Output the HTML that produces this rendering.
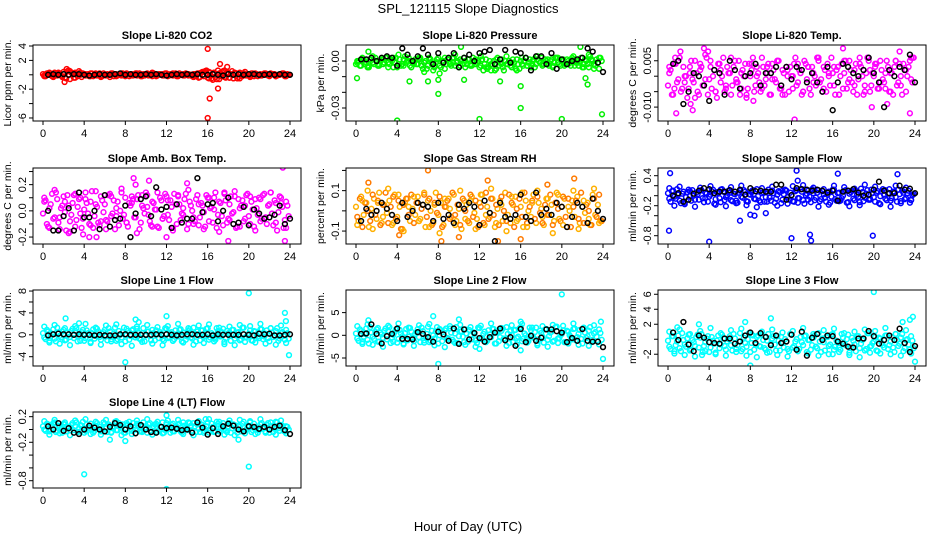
<!DOCTYPE html>
<html><head><meta charset="utf-8"><title>SPL_121115 Slope Diagnostics</title>
<style>
html,body{margin:0;padding:0;background:#fff;}
svg{display:block;font-family:"Liberation Sans",Arial,sans-serif;}
</style></head>
<body>
<svg id="chart" width="936" height="540" viewBox="0 0 936 540" xmlns="http://www.w3.org/2000/svg">
<rect x="0" y="0" width="936" height="540" fill="#fff"/>
<text x="468" y="13" text-anchor="middle" font-size="13">SPL_121115  Slope Diagnostics</text>
<text x="468" y="531" text-anchor="middle" font-size="13">Hour of Day (UTC)</text>
</svg>
<script>
const hoursA=[0,0.25,0.5,0.75,1,1.25,1.5,1.75,2,2.25,2.5,2.75,3,3.25,3.5,3.75,4,4.25,4.5,4.75,5,5.25,5.5,5.75,6,6.25,6.5,6.75,7,7.25,7.5,7.75,8,8.25,8.5,8.75,9,9.25,9.5,9.75,10,10.25,10.5,10.75,11,11.25,11.5,11.75,12,12.25,12.5,12.75,13,13.25,13.5,13.75,14,14.25,14.5,14.75,15,15.25,15.5,15.75,16,16.25,16.5,16.75,17,17.25,17.5,17.75,18,18.25,18.5,18.75,19,19.25,19.5,19.75,20,20.25,20.5,20.75,21,21.25,21.5,21.75,22,22.25,22.5,22.75,23,23.25,23.5,23.75];
const hoursC=[0.125,0.375,0.625,0.875,1.125,1.375,1.625,1.875,2.125,2.375,2.625,2.875,3.125,3.375,3.625,3.875,4.125,4.375,4.625,4.875,5.125,5.375,5.625,5.875,6.125,6.375,6.625,6.875,7.125,7.375,7.625,7.875,8.125,8.375,8.625,8.875,9.125,9.375,9.625,9.875,10.125,10.375,10.625,10.875,11.125,11.375,11.625,11.875,12.125,12.375,12.625,12.875,13.125,13.375,13.625,13.875,14.125,14.375,14.625,14.875,15.125,15.375,15.625,15.875,16.125,16.375,16.625,16.875,17.125,17.375,17.625,17.875,18.125,18.375,18.625,18.875,19.125,19.375,19.625,19.875,20.125,20.375,20.625,20.875,21.125,21.375,21.625,21.875,22.125,22.375,22.625,22.875,23.125,23.375,23.625,23.875];
const hoursB=[0.125,0.625,1.125,1.625,2.125,2.625,3.125,3.625,4.125,4.625,5.125,5.625,6.125,6.625,7.125,7.625,8.125,8.625,9.125,9.625,10.125,10.625,11.125,11.625,12.125,12.625,13.125,13.625,14.125,14.625,15.125,15.625,16.125,16.625,17.125,17.625,18.125,18.625,19.125,19.625,20.125,20.625,21.125,21.625,22.125,22.625,23.125,23.625];
const hoursK=[0.5,1,1.5,2,2.5,3,3.5,4,4.5,5,5.5,6,6.5,7,7.5,8,8.5,9,9.5,10,10.5,11,11.5,12,12.5,13,13.5,14,14.5,15,15.5,16,16.5,17,17.5,18,18.5,19,19.5,20,20.5,21,21.5,22,22.5,23,23.5,24];
const xTicks=[0,4,8,12,16,20,24];
const xTickLabels=["0","4","8","12","16","20","24"];

const p1A=[0.1,-0.2,0.2,0,-0.3,0.1,0.3,-0.1,0.4,-0.5,0.6,0.3,-0.4,0.2,0.5,-0.3,0.1,0,-0.2,0.2,0.1,-0.1,0.2,-0.2,0,0.1,-0.3,0.2,0.1,-0.1,0,0.2,-0.2,0.1,0,-0.1,0.2,0,-0.2,0.1,0.1,-0.1,0,0.2,-0.2,0.1,0,-0.1,0.2,-0.1,0,0.1,-0.2,0.2,0,-0.1,0.1,0,-0.2,0.1,0.2,-0.3,0.4,0.5,-0.4,0.3,0.2,-0.3,0.6,-0.2,0.5,-0.4,0.3,0.1,-0.5,0.2,-0.3,0.1,0.2,-0.1,0,0.2,-0.2,0.1,0,-0.1,0.2,0,-0.2,0.1,0.1,-0.1,0,0.2,-0.2,0.1];
const p1B=[-0.2,0.3,-0.1,0.2,-0.4,0.5,-0.4,0.3,0.1,-0.2,0.2,-0.3,0,0.1,-0.2,0.2,0.1,-0.1,0.2,-0.2,0,0.3,-0.1,0.1,-0.2,0.2,0,-0.1,0.1,-0.3,0.2,0.4,-0.5,0.3,-0.6,0.6,-0.4,0.3,-0.5,0.4,-0.3,0.2,-0.1,0.1,0.2,-0.2,0.1,-0.2];
const p1C=[-0.1,0.2,0,-0.2,0.3,-0.1,0.1,-0.3,0.2,0.5,-0.6,0.1,0.3,-0.2,0,0.2,-0.1,0.1,0.2,-0.2,0,0.1,-0.1,0.2,-0.1,0,0.2,-0.2,0.1,0,-0.1,0.1,0.2,-0.2,0.1,0,-0.1,0.2,0,-0.1,0.2,0,-0.2,0.1,0,0.1,-0.1,0.2,0,0.1,-0.1,0.2,-0.2,0,0.1,0.2,-0.1,0,0.1,-0.2,-0.4,0.3,-0.2,0.6,0.4,-0.5,0.3,-0.6,0.2,0.4,-0.3,0.2,-0.4,0.5,0.2,-0.5,0.3,-0.2,0,0.1,-0.1,0.2,0,-0.2,0.1,0,0.2,-0.1,0,0.1,-0.2,0,0.1,0.2,-0.1,0];
const p1OutH=[2.1,16.0,16.0,16.2,17.0,17.2,17.9,2.3,16.5];
const p1OutV=[-1.0,3.6,-6.0,-3.3,-1.9,1.5,1.1,0.8,-0.7];
const p1K=[0,0.1,0,0.1,0,0.1,0.1,0,-0.1,0,0.1,0,0,0.1,0.2,0,0.1,0,0,0.1,0,0.1,0,-0.1,0,0.1,0,0.1,0,0.1,0,0,0.1,0,-0.1,0.1,0,0.1,0,0.1,0.1,0,0,0.1,0,0.1,0,0];
const p1Ticks=[-6,-4,-2,0,2,4];
const p1TickLabels=["-6","","-2","","2","4"];

const p2A=[-0.002,0.000,-0.003,0.001,-0.001,-0.004,0.002,-0.002,0.000,-0.003,0.001,-0.001,0.002,-0.002,0.000,-0.001,-0.004,0.001,-0.002,0.003,0.000,-0.003,-0.001,0.001,-0.002,0.002,-0.005,0.000,-0.003,0.001,-0.006,-0.001,0.002,-0.004,0.000,-0.002,0.001,-0.003,0.002,-0.001,-0.004,0.000,0.002,-0.002,0.001,-0.003,0.000,-0.001,-0.004,0.001,-0.002,-0.005,0.000,-0.003,-0.006,0.002,-0.001,-0.004,0.000,-0.002,-0.003,0.001,-0.005,-0.002,0.000,-0.003,0.002,-0.001,-0.004,0.001,-0.002,0.000,0.002,-0.002,0.000,-0.003,0.001,-0.001,0.002,-0.002,0.000,-0.003,0.001,-0.001,0.002,-0.003,0.000,-0.001,-0.004,0.001,-0.002,0.003,0.000,-0.003,-0.001,0.002];
const p2B=[-0.001,0.002,-0.003,0.003,-0.002,0.001,-0.004,0.002,0.004,-0.003,0.000,-0.002,0.002,-0.007,0.001,-0.003,-0.008,0.002,-0.001,0.004,-0.003,0.000,-0.002,0.001,0.003,-0.004,-0.006,0.001,-0.002,0.003,-0.001,-0.006,0.002,-0.003,0.000,0.003,-0.002,0.001,-0.003,0.002,0.000,-0.002,0.003,-0.001,-0.004,0.004,-0.005,0.002];
const p2C=[0.000,-0.003,0.001,-0.002,-0.004,0.001,-0.001,0.002,-0.003,0.000,-0.002,0.002,-0.001,0.001,-0.004,0.002,-0.002,-0.003,0.001,-0.001,0.002,-0.004,0.000,-0.002,0.001,-0.003,-0.001,-0.005,0.002,-0.002,-0.004,0.001,-0.003,0.000,-0.005,0.001,-0.002,0.002,-0.003,0.000,0.001,-0.002,-0.004,0.001,-0.003,0.002,-0.002,0.000,-0.003,-0.006,0.001,-0.004,-0.002,0.000,-0.005,-0.003,0.001,-0.006,-0.002,0.000,-0.004,-0.001,0.001,-0.005,-0.002,0.000,-0.003,0.001,-0.002,-0.004,0.001,-0.001,-0.003,0.001,-0.002,0.000,-0.004,0.002,-0.001,-0.003,0.001,-0.002,0.000,-0.003,0.001,-0.001,-0.003,0.002,-0.002,0.000,-0.004,0.001,-0.002,0.001,-0.005,0.000];
const p2OutH=[0.1,4.0,12.0,16.0,20.0,23.9,8.0,5.2,7.0,8.0,10.5,14.0,22.3,22.5,16.0,1.2,10.2,21.8];
const p2OutV=[-0.011,-0.038,-0.037,-0.030,-0.037,-0.034,-0.021,-0.013,-0.013,-0.012,-0.012,-0.013,-0.011,-0.015,-0.016,0.006,0.009,0.009];
const p2K=[0.001,0.001,0.002,0.000,0.002,0.003,0.002,-0.003,0.008,0.004,0.000,0.003,0.008,0.004,-0.002,0.005,-0.001,0.002,0.005,-0.004,0.002,0.004,0.000,0.005,0.006,0.007,-0.002,0.001,0.007,-0.001,0.006,0.005,0.002,-0.006,0.003,0.003,-0.002,0.005,-0.005,0.001,-0.002,0.000,0.001,0.002,0.008,0.006,-0.001,-0.007];
const p2Ticks=[-0.03,-0.02,-0.01,0];
const p2TickLabels=["-0.03","","","0.00"];

const p3A=[-0.003,0.002,-0.006,0.004,-0.001,-0.005,0.003,0.000,-0.004,0.005,-0.002,0.001,-0.006,0.003,-0.003,0.006,-0.001,-0.004,0.002,-0.007,0.004,0.000,-0.005,0.003,0.001,-0.003,0.005,-0.002,-0.006,0.002,0.004,-0.004,0.000,0.006,-0.003,0.001,-0.005,0.003,-0.001,0.004,-0.006,0.002,-0.002,0.005,-0.004,0.001,0.003,-0.005,0.000,0.004,-0.003,0.002,-0.006,0.005,-0.001,-0.004,0.003,0.000,0.006,-0.002,-0.005,0.002,0.004,-0.003,0.001,-0.006,0.003,0.000,-0.004,0.005,-0.002,0.002,-0.005,0.004,-0.001,0.003,-0.006,0.001,0.005,-0.003,0.000,0.004,-0.004,0.002,-0.002,0.005,-0.005,0.001,0.003,-0.003,0.004,-0.006,0.002,0.000,0.005,-0.002];
const p3B=[0.003,-0.004,0.006,-0.002,0.001,-0.007,0.004,-0.001,0.005,-0.005,0.002,-0.003,0.006,-0.002,0.001,-0.006,0.004,0.000,-0.004,0.003,-0.001,0.005,-0.006,0.002,0.000,0.004,-0.005,0.003,-0.002,0.006,-0.004,0.001,0.003,-0.006,0.005,-0.001,-0.003,0.006,-0.005,0.002,0.004,-0.002,0.001,-0.005,0.005,-0.003,0.002,0.006];
const p3C=[0.001,-0.006,0.004,-0.002,0.006,-0.004,0.000,-0.007,0.003,-0.001,0.005,-0.005,0.002,-0.003,0.007,-0.006,0.003,0.000,-0.005,0.004,-0.002,0.006,-0.004,0.001,-0.006,0.003,-0.001,0.005,-0.004,0.000,-0.007,0.004,0.002,-0.005,0.003,-0.002,0.006,-0.003,0.001,-0.006,0.004,-0.001,0.005,-0.004,0.002,-0.006,0.000,0.003,-0.004,0.006,-0.002,0.001,-0.005,0.004,0.003,-0.006,0.001,-0.003,0.005,-0.001,0.003,-0.005,0.000,0.006,-0.003,0.002,-0.006,0.004,0.001,-0.004,0.005,-0.002,0.002,-0.006,0.004,0.000,-0.003,0.006,-0.005,0.001,0.003,-0.004,0.005,-0.001,-0.004,0.003,0.001,-0.006,0.005,-0.002,0.000,0.004,-0.005,0.003,-0.001,0.006];
const p3OutH=[0.8,2.2,2.4,3.5,3.9,12.3,17.0,19.8,21.3,23.5,22.5,0.7,1.2,23.8,8.3];
const p3OutV=[-0.012,-0.009,-0.011,0.009,0.008,-0.014,0.009,-0.010,-0.009,-0.012,0.008,0.006,0.008,0.006,-0.008];
const p3K=[0.004,0.005,-0.009,-0.005,0.001,0.000,-0.003,-0.008,0.002,0.001,-0.006,0.005,0.002,-0.004,0.000,0.001,0.004,-0.003,0.001,0.001,0.003,-0.003,0.003,-0.001,0.003,0.002,-0.002,0.001,-0.002,-0.005,0.003,-0.011,-0.002,0.004,0.003,0.001,0.000,0.002,0.006,0.001,-0.002,-0.010,0.002,0.000,0.003,0.002,0.007,-0.002];
const p3Ticks=[-0.01,-0.005,0,0.005];
const p3TickLabels=["-0.010","","","0.005"];

const p4A=[-0.02,0.08,-0.12,0.05,-0.06,0.14,-0.09,0.02,0.11,-0.15,0.04,-0.03,0.12,-0.07,0.09,-0.13,0.01,0.06,-0.10,0.15,-0.04,0.03,-0.11,0.08,0.05,-0.08,0.13,-0.02,-0.14,0.07,0.00,-0.06,0.10,-0.12,0.04,0.09,-0.05,0.12,-0.09,0.02,0.14,-0.03,-0.11,0.06,0.01,-0.13,0.08,-0.04,0.11,-0.07,0.03,0.13,-0.10,0.05,-0.02,0.09,-0.14,0.07,0.00,-0.08,0.12,-0.05,0.04,-0.12,0.10,0.02,-0.09,0.14,-0.03,0.06,-0.11,0.08,-0.06,0.11,-0.01,-0.13,0.09,0.04,-0.08,0.12,-0.04,0.07,-0.12,0.02,0.10,-0.06,0.13,-0.10,0.05,-0.02,0.08,-0.15,0.11,0.03,-0.07,0.04];
const p4B=[0.10,-0.13,0.16,-0.05,0.07,-0.16,0.13,-0.02,0.09,-0.11,0.15,-0.08,-0.14,0.11,-0.04,0.17,-0.09,0.06,-0.17,0.12,0.03,-0.12,0.14,-0.06,0.08,-0.15,0.12,-0.03,0.16,-0.10,0.05,-0.14,0.10,0.01,-0.16,0.13,-0.07,0.15,-0.12,0.04,0.11,-0.15,0.09,-0.05,0.14,-0.09,0.06,-0.13];
const p4C=[0.07,-0.10,0.02,0.13,-0.05,0.09,-0.14,0.04,-0.01,0.12,-0.08,0.06,-0.12,0.03,0.10,-0.06,0.14,-0.02,0.07,-0.13,0.05,-0.09,0.11,-0.01,-0.07,0.12,-0.04,0.08,0.02,-0.11,0.14,-0.03,-0.09,0.06,0.11,-0.05,0.09,-0.14,0.04,-0.02,0.12,-0.08,0.07,0.01,-0.12,0.10,-0.06,0.13,-0.03,0.08,-0.13,0.05,0.11,-0.07,0.02,0.13,-0.10,0.04,-0.05,0.09,-0.11,0.06,-0.01,0.12,-0.08,0.03,0.10,-0.13,0.07,-0.04,0.14,-0.09,0.05,-0.02,0.11,-0.12,0.02,0.08,-0.06,0.13,-0.10,0.01,0.09,-0.03,-0.08,0.12,-0.05,0.04,0.14,-0.11,0.06,-0.01,0.10,-0.13,0.07,-0.04];
const p4OutH=[8.8,9.0,10.3,14.0,18.0,23.3,23.5,12.0,4.5,5.2,3.9,2.5];
const p4OutV=[0.25,0.2,0.23,0.21,-0.23,0.33,-0.23,-0.2,-0.2,-0.2,-0.18,-0.17];
const p4K=[0.00,-0.15,-0.15,-0.04,0.02,-0.15,0.14,-0.05,-0.05,0.00,-0.14,0.12,-0.12,-0.07,-0.06,0.04,-0.20,-0.02,0.09,0.11,-0.04,0.18,0.01,0.03,-0.13,0.05,-0.09,-0.06,-0.06,0.25,-0.01,0.05,0.06,-0.08,0.00,0.10,-0.10,-0.09,0.03,-0.11,0.01,-0.02,-0.06,-0.05,-0.03,0.04,-0.10,-0.06];
const p4Ticks=[-0.2,-0.1,0,0.1,0.2,0.3];
const p4TickLabels=["-0.2","","0.0","","0.2",""];

const p5A=[0.02,-0.05,0.07,-0.02,0.04,-0.08,0.01,0.06,-0.04,0.09,-0.06,0.03,-0.01,0.05,-0.07,0.08,-0.03,0.02,-0.09,0.04,0.06,-0.05,0.01,-0.02,0.07,-0.04,0.03,-0.08,0.05,0.00,-0.06,0.09,-0.02,0.04,-0.07,0.02,0.06,-0.03,0.08,-0.05,0.01,-0.09,0.05,0.03,-0.06,0.07,-0.01,-0.04,0.04,0.08,-0.07,0.02,-0.03,0.06,-0.08,0.01,0.05,-0.05,0.09,-0.02,-0.06,0.03,0.07,-0.04,0.02,-0.08,0.05,0.00,-0.03,0.08,-0.06,0.04,0.01,-0.07,0.06,-0.02,0.03,-0.05,0.09,-0.04,0.02,0.06,-0.08,0.00,0.05,-0.03,0.07,-0.06,0.02,-0.01,0.04,-0.07,0.08,-0.02,0.03,-0.05];
const p5B=[-0.07,0.05,0.10,-0.09,0.04,-0.03,0.11,-0.06,0.08,-0.10,0.02,0.07,-0.05,0.09,-0.08,0.03,-0.11,0.06,0.01,-0.07,0.10,-0.04,0.05,-0.09,0.08,-0.02,0.11,-0.06,0.03,-0.10,0.07,-0.05,0.09,-0.08,0.04,0.10,-0.03,0.06,-0.11,0.08,-0.07,0.02,0.10,-0.09,0.05,-0.04,0.11,-0.06];
const p5C=[-0.03,0.06,-0.08,0.04,0.00,-0.05,0.08,-0.02,0.05,-0.07,0.03,0.09,-0.06,0.02,0.07,-0.04,0.05,-0.09,0.03,0.06,-0.02,0.08,-0.06,0.04,-0.05,0.01,0.08,-0.03,0.06,-0.07,0.04,-0.01,0.07,-0.08,0.02,0.05,-0.04,0.09,-0.02,0.03,-0.07,0.06,0.00,-0.05,0.08,-0.03,0.05,-0.08,0.02,-0.06,0.09,-0.04,0.06,-0.02,0.03,-0.07,0.07,0.00,-0.05,0.08,0.04,-0.08,0.01,0.06,-0.03,0.09,-0.06,0.02,0.05,-0.04,0.07,-0.01,-0.06,0.03,-0.02,0.08,-0.07,0.04,0.01,-0.05,0.07,-0.03,0.06,-0.08,0.02,0.05,-0.04,0.09,-0.06,0.03,0.00,-0.07,0.06,-0.03,0.08,-0.05];
const p5OutH=[1.2,7.0,8.3,12.8,13.8,21.2,18.6,10.0,4.2,16.0];
const p5OutV=[0.14,0.2,-0.15,0.15,-0.15,0.16,0.13,-0.13,-0.12,-0.14];
const p5K=[-0.05,0.01,-0.02,0.00,0.04,0.01,-0.02,-0.05,0.04,-0.03,0.00,0.04,0.03,0.02,-0.05,0.04,-0.04,-0.02,-0.06,0.03,0.01,0.04,0.02,-0.07,0.05,-0.01,-0.15,0.04,-0.03,-0.04,-0.02,0.08,-0.03,-0.05,0.09,-0.02,0.01,-0.02,0.04,0.02,-0.08,-0.03,0.04,0.02,-0.06,0.06,0.00,-0.04];
const p5Ticks=[-0.1,0,0.1,0.2];
const p5TickLabels=["-0.1","","0.1",""];

const p6A=[0.05,-0.12,0.10,-0.06,0.02,-0.15,0.08,-0.03,0.12,-0.10,0.00,0.06,-0.08,0.11,-0.13,0.04,-0.02,0.09,-0.16,0.07,-0.05,0.13,-0.09,0.01,0.06,-0.11,0.03,-0.14,0.10,-0.04,0.08,-0.12,0.02,0.11,-0.07,-0.01,-0.13,0.07,-0.03,0.12,-0.10,0.05,-0.06,0.09,-0.15,0.03,0.10,-0.08,0.01,-0.12,0.11,-0.05,0.08,-0.16,0.04,-0.02,0.13,-0.09,0.06,-0.11,0.09,-0.04,0.02,-0.14,0.12,-0.07,0.05,-0.10,0.00,0.11,-0.13,0.07,-0.06,0.10,-0.02,0.14,-0.11,0.04,-0.08,0.12,-0.03,0.06,-0.15,0.09,0.02,-0.09,0.13,-0.05,0.08,-0.12,0.03,0.10,-0.07,0.05,-0.14,0.01];
const p6B=[0.15,-0.20,0.18,-0.17,0.09,-0.22,0.16,-0.05,0.19,-0.18,0.12,-0.21,0.17,-0.10,0.20,-0.19,0.07,-0.23,0.15,-0.12,0.18,-0.20,0.10,-0.16,0.19,-0.14,0.21,-0.08,0.16,-0.22,0.13,-0.18,0.20,-0.11,0.17,-0.21,0.14,-0.19,0.22,-0.06,0.18,-0.17,0.11,-0.22,0.20,-0.15,0.16,-0.09];
const p6C=[-0.06,0.09,-0.02,0.13,-0.10,0.04,-0.14,0.07,-0.01,0.11,-0.08,0.03,0.10,-0.05,0.06,-0.12,0.02,0.12,-0.07,0.05,-0.13,0.08,-0.03,0.10,-0.09,0.04,-0.15,0.06,-0.02,0.11,-0.11,0.03,0.09,-0.06,0.13,-0.10,0.05,-0.12,0.08,-0.04,0.10,-0.14,0.02,0.07,-0.08,0.12,-0.03,0.06,-0.11,0.09,-0.05,0.13,-0.09,0.01,0.10,-0.13,0.05,-0.04,0.11,-0.07,0.03,-0.12,0.08,-0.02,0.12,-0.10,0.06,-0.05,0.09,-0.14,0.04,0.10,-0.09,0.02,-0.13,0.07,-0.04,0.11,-0.08,0.05,-0.12,0.09,-0.01,0.13,-0.06,0.04,-0.10,0.08,-0.03,0.12,-0.11,0.06,-0.05,0.10,-0.08,0.03];
const p6OutH=[0.1,0.2,4.0,12.0,13.8,13.9,19.9,12.5,16.5,22.3,12.6,7.0,8.0,8.4,9.5];
const p6OutV=[-0.7,0.45,-0.92,-0.85,-0.78,-0.9,-0.8,0.5,0.44,0.43,0.3,-0.5,-0.38,-0.4,-0.35];
const p6K=[0.00,0.05,-0.12,-0.08,0.04,0.10,0.15,0.13,0.05,0.08,0.08,0.11,0.08,0.12,0.02,0.15,0.09,0.10,0.08,0.08,0.22,0.22,-0.08,0.01,0.15,0.13,0.12,0.10,0.12,0.10,0.06,0.10,-0.10,0.08,0.10,0.13,0.06,0.00,0.02,0.12,0.28,0.10,0.05,0.05,0.20,0.12,0.14,0.05];
const p6Ticks=[-0.8,-0.6,-0.4,-0.2,0,0.2,0.4];
const p6TickLabels=["-0.8","","","-0.2","","","0.4"];

const p7A=[0.3,-0.8,0.6,-0.2,1.0,-1.2,0.4,-0.5,0.9,-0.9,0.1,0.7,-0.6,1.2,-0.3,0.5,-1.1,0.8,-0.1,0.3,-0.7,1.1,-0.4,0.2,0.9,-1.0,0.6,-0.3,1.3,-0.8,0.0,0.5,-1.2,0.7,-0.2,1.0,-0.5,0.4,-0.9,1.2,-0.1,0.6,-1.0,0.3,0.8,-0.6,0.2,-1.1,1.1,-0.4,0.5,-0.8,0.1,0.9,-1.2,0.4,-0.3,1.0,-0.7,0.2,0.6,-1.0,0.8,-0.2,1.2,-0.5,0.0,-0.9,0.7,-0.3,1.1,-0.6,0.3,-1.1,0.9,-0.1,0.5,-0.8,1.3,-0.4,0.2,-1.0,0.7,0.0,-0.6,1.0,-0.3,0.8,-1.2,0.4,-0.1,1.2,-0.7,0.5,-0.9,0.3];
const p7B=[1.5,-1.4,1.8,-1.6,1.2,-1.9,1.6,-1.1,2.0,-1.5,1.3,-1.8,1.7,-1.2,1.9,-1.7,1.1,-2.0,1.5,-1.3,1.8,-1.6,1.4,-1.9,1.6,-1.1,2.0,-1.4,1.2,-1.8,1.7,-1.5,1.9,-1.2,1.3,-1.7,1.5,-1.9,1.8,-1.3,1.6,-1.4,2.0,-1.6,1.2,-1.8,1.7,-1.5];
const p7C=[-0.5,0.9,-1.1,0.2,-0.7,1.3,-0.2,0.6,-1.0,0.4,-0.4,1.1,0.7,-1.2,0.1,0.9,-0.6,0.3,-1.3,1.0,-0.2,0.6,-0.9,0.5,-0.3,1.2,-0.8,0.2,-1.1,0.7,-0.5,1.3,0.0,-0.9,0.8,-0.4,1.1,-0.7,0.3,-1.2,0.6,-0.2,0.9,-1.0,0.1,0.5,-0.8,1.2,-0.6,0.2,-1.1,0.8,-0.3,1.0,0.4,-0.9,0.7,-0.5,1.3,-1.2,0.1,0.8,-0.4,1.1,-0.9,0.3,-0.6,1.2,-0.1,0.5,-1.3,0.7,-0.2,0.9,-0.7,0.4,-1.0,1.3,-0.5,0.0,0.8,-1.1,0.6,-0.3,1.0,-0.8,0.2,-0.6,1.2,-0.4,0.7,-1.1,0.3,-0.2,0.9,-0.7];
const p7OutH=[20.0,8.0,23.9,23.5,12.0,9.0,2.2,23.6,9.3,3.5];
const p7OutV=[7.6,-5.0,-3.7,4.0,3.4,2.8,3.0,2.5,2.3,2.1];
const p7K=[-0.1,0.1,0.2,0.1,0.1,0.0,0.1,0.0,0.0,-0.1,0.0,-0.1,-0.1,-0.1,0.1,0.1,0.0,0.0,0.0,0.0,0.0,0.1,0.0,0.1,0.0,-0.1,0.0,0.1,0.1,0.0,0.0,0.1,-0.1,0.1,0.0,0.0,0.0,0.0,0.1,0.0,-0.1,0.2,0.1,0.2,-0.1,-0.1,0.0,0.1];
const p7Ticks=[-4,-2,0,2,4,6,8];
const p7TickLabels=["-4","","0","","4","","8"];

const p8A=[0.4,-1.2,0.9,-0.3,1.5,-1.8,0.6,-0.8,1.3,-1.4,0.2,1.0,-0.9,1.8,-0.5,0.7,-1.6,1.2,-0.2,0.5,-1.1,1.6,-0.6,0.3,1.4,-1.5,0.9,-0.4,1.9,-1.2,0.0,0.8,-1.8,1.1,-0.3,1.5,-0.8,0.6,-1.4,1.8,-0.2,0.9,-1.5,0.4,1.2,-0.9,0.3,-1.7,1.6,-0.6,0.8,-1.2,0.2,1.4,-1.8,0.6,-0.4,1.5,-1.0,0.3,0.9,-1.5,1.2,-0.3,1.8,-0.8,0.0,-1.3,1.1,-0.5,1.7,-0.9,0.5,-1.6,1.4,-0.2,0.8,-1.2,1.9,-0.6,0.3,-1.5,1.0,0.0,-0.9,1.5,-0.4,1.2,-1.8,0.6,-0.2,1.8,-1.0,0.7,-1.4,0.5];
const p8B=[2.0,-1.9,2.4,-2.1,1.6,-2.5,2.1,-1.4,2.6,-2.0,1.7,-2.3,2.2,-1.6,2.5,-2.2,1.4,-2.6,2.0,-1.7,2.3,-2.1,1.8,-2.5,2.1,-1.4,2.6,-1.8,1.6,-2.3,2.2,-2.0,2.5,-1.6,1.7,-2.2,2.0,-2.5,2.3,-1.7,2.1,-1.8,2.6,-2.1,1.6,-2.3,2.2,-2.0];
const p8C=[-0.7,1.3,-1.5,0.3,-1.0,1.8,-0.3,0.8,-1.4,0.6,-0.6,1.5,1.0,-1.7,0.1,1.3,-0.8,0.4,-1.8,1.4,-0.3,0.8,-1.3,0.7,-0.4,1.7,-1.1,0.3,-1.5,1.0,-0.7,1.8,0.0,-1.3,1.1,-0.6,1.5,-1.0,0.4,-1.7,0.8,-0.3,1.3,-1.4,0.1,0.7,-1.1,1.7,-0.8,0.3,-1.5,1.1,-0.4,1.4,0.6,-1.3,1.0,-0.7,1.8,-1.7,0.1,1.1,-0.6,1.5,-1.3,0.4,-0.8,1.7,-0.1,0.7,-1.8,1.0,-0.3,1.3,-1.0,0.6,-1.4,1.8,-0.7,0.0,1.1,-1.5,0.8,-0.4,1.4,-1.1,0.3,-0.8,1.7,-0.6,1.0,-1.5,0.4,-0.3,1.3,-1.0];
const p8OutH=[20.0,8.0,24.0,7.5,10.0,16.0,12.0,23.8,1.2,16.0];
const p8OutV=[9.0,-6.3,-5.2,4.2,3.5,3.0,-3.0,3.0,3.3,-3.3];
const p8K=[0.3,0.4,2.4,0.3,-1.8,-0.2,0.3,1.5,-0.8,-0.8,-0.9,0.7,0.3,-0.4,-1.4,0.8,0.2,-1.2,1.5,-1.9,1.3,-0.9,0.5,-0.6,-1.4,-0.4,0.6,1.5,-1.1,-0.4,-2.3,1.4,-1.5,-0.1,-1.2,-0.5,1.3,1.3,0.9,0.6,-1.5,-0.6,-1.2,1.4,-1.2,-1.4,-1.4,-2.6];
const p8Ticks=[-5,0,5];
const p8TickLabels=["-5","0","5"];

const p9A=[-0.2,-1.3,0.4,-0.8,0.5,-1.6,-0.1,-1.0,0.6,-1.4,-0.4,0.3,-1.1,0.7,-0.9,0.1,-1.7,0.3,-0.6,-0.2,-1.2,0.6,-0.9,-0.3,0.4,-1.5,0.1,-0.8,0.8,-1.3,-0.5,0.0,-1.7,0.5,-0.7,0.5,-1.0,-0.1,-1.4,0.7,-0.6,0.4,-1.5,-0.2,0.3,-1.1,-0.3,-1.6,0.6,-0.9,0.0,-1.3,-0.4,0.4,-1.7,-0.1,-0.8,0.5,-1.2,-0.3,0.1,-1.5,0.3,-0.7,0.7,-1.0,-0.5,-1.4,0.2,-0.8,0.6,-1.1,-0.2,-1.6,0.4,-0.6,0.0,-1.3,0.8,-0.9,-0.3,-1.5,0.2,-0.5,-1.1,0.5,-0.8,0.3,-1.7,-0.1,-0.6,0.7,-1.2,0.0,-1.4,-0.2];
const p9B=[1.0,-1.9,1.3,-2.1,0.7,-2.3,1.1,-1.6,1.5,-2.0,0.8,-2.2,1.2,-1.7,1.4,-2.2,0.6,-2.4,1.0,-1.8,1.3,-2.1,0.9,-2.3,1.1,-1.6,1.5,-1.9,0.7,-2.2,1.2,-2.0,1.4,-1.7,0.8,-2.1,1.0,-2.4,1.3,-1.8,1.1,-1.9,1.5,-2.0,0.7,-2.2,1.2,-1.9];
const p9C=[-1.0,0.4,-1.6,-0.3,-1.2,0.8,-0.7,0.1,-1.5,-0.1,-0.9,0.6,0.2,-1.7,-0.4,0.4,-1.1,-0.2,-1.8,0.5,-0.7,0.1,-1.4,0.0,-0.8,0.7,-1.3,-0.3,-1.6,0.2,-1.0,0.8,-0.5,-1.4,0.3,-0.9,0.6,-1.2,-0.2,-1.7,0.1,-0.7,0.4,-1.5,-0.4,0.0,-1.3,0.7,-1.1,-0.3,-1.6,0.3,-0.8,0.5,-0.1,-1.4,0.2,-1.0,0.8,-1.7,-0.4,0.3,-0.9,0.6,-1.4,-0.2,-1.1,0.7,-0.6,0.0,-1.8,0.2,-0.7,0.4,-1.2,-0.1,-1.5,0.8,-1.0,-0.5,0.3,-1.6,0.1,-0.8,0.5,-1.3,-0.3,-1.1,0.7,-0.9,0.2,-1.6,-0.1,-0.7,0.4,-1.2];
const p9OutH=[20.0,8.0,24.0,23.8,10.0,3.0,7.5,22.8,23.5,0.9,3.3,16.0];
const p9OutV=[6.3,-3.5,-3.0,3.0,2.8,2.0,2.3,2.3,2.6,1.6,-2.1,-2.0];
const p9K=[0.9,-0.1,2.3,-0.7,-1.6,0.5,0.2,-0.4,-0.5,-0.6,0.1,0.1,-0.6,-0.3,0.5,0.9,-0.5,0.8,0.3,-0.8,0.5,-0.5,-0.3,0.6,-1.4,1.0,-2.2,0.2,0.7,-0.1,0.5,0.4,-0.3,-0.6,-1.0,-1.1,0.1,0.1,1.1,0.4,-0.6,-0.1,0.5,-0.1,1.4,-0.5,-1.7,-0.9];
const p9Ticks=[-2,0,2,4,6];
const p9TickLabels=["-2","","2","4","6"];

const p10A=[0.05,-0.02,0.08,0.00,0.10,-0.04,0.06,0.01,0.09,-0.03,0.04,0.07,-0.01,0.11,0.02,0.06,-0.05,0.08,0.03,0.00,-0.02,0.10,0.04,0.01,0.09,-0.04,0.06,0.02,0.12,-0.01,0.05,0.08,-0.05,0.07,0.01,0.10,0.00,0.06,-0.03,0.11,0.03,0.08,-0.04,0.05,0.09,-0.01,0.04,-0.05,0.10,0.01,0.07,-0.03,0.04,0.09,-0.05,0.06,0.02,0.10,-0.02,0.05,0.08,-0.04,0.07,0.01,0.11,-0.01,0.04,-0.03,0.09,0.02,0.10,-0.02,0.05,-0.05,0.08,0.02,0.06,-0.03,0.12,0.00,0.04,-0.04,0.09,0.03,-0.01,0.10,0.02,0.07,-0.05,0.05,0.01,0.11,-0.02,0.06,-0.03,0.04];
const p10B=[0.13,-0.08,0.15,-0.06,0.11,-0.09,0.14,-0.03,0.16,-0.07,0.12,-0.08,0.15,-0.05,0.13,-0.09,0.10,-0.07,0.14,-0.04,0.16,-0.08,0.12,-0.06,0.14,-0.03,0.15,-0.07,0.11,-0.09,0.13,-0.05,0.16,-0.04,0.12,-0.08,0.14,-0.09,0.15,-0.06,0.13,-0.07,0.16,-0.05,0.11,-0.08,0.14,-0.06];
const p10C=[0.00,0.09,-0.03,0.06,0.11,-0.02,0.04,-0.05,0.08,0.02,-0.01,0.10,0.05,-0.04,0.07,0.12,-0.02,0.03,0.09,-0.05,0.06,0.01,-0.03,0.11,0.02,0.08,-0.04,0.05,-0.01,0.10,0.03,-0.05,0.07,0.12,-0.02,0.04,0.09,-0.03,0.06,0.01,-0.05,0.10,0.02,0.08,-0.04,0.05,0.11,-0.01,0.04,-0.05,0.09,0.02,0.07,-0.03,0.11,0.03,-0.01,0.06,0.10,-0.04,0.01,0.08,-0.02,0.05,-0.05,0.09,0.03,0.12,-0.03,0.06,0.00,-0.04,0.10,0.02,0.07,-0.05,0.04,0.09,-0.02,0.06,0.11,-0.01,0.03,-0.05,0.08,0.01,-0.03,0.10,0.05,-0.04,0.12,0.02,0.07,-0.02,0.05,0.00];
const p10OutH=[4.0,12.0,20.0,12.0,6.5,8.0,19.0,15.8];
const p10OutV=[-0.70,-0.93,-0.58,0.22,-0.16,-0.18,-0.16,0.16];
const p10K=[0.05,0.00,0.10,-0.02,0.02,-0.05,-0.07,0.00,0.06,0.03,0.00,-0.03,0.04,0.10,0.07,0.00,0.05,-0.06,0.07,0.00,-0.04,-0.05,0.04,0.02,0.03,0.01,-0.01,0.00,-0.05,0.11,0.03,-0.08,0.02,-0.07,0.05,0.09,0.06,0.00,-0.03,0.05,0.04,0.01,0.04,0.00,0.04,0.06,-0.01,-0.07];
const p10Ticks=[-0.8,-0.6,-0.4,-0.2,0,0.2];
const p10TickLabels=["-0.8","","","-0.2","","0.2"];

const NS="http://www.w3.org/2000/svg";
const svg=document.getElementById('chart');
function mk(tag,attrs,parent){const e=document.createElementNS(NS,tag);for(const k in attrs)e.setAttribute(k,attrs[k]);(parent||svg).appendChild(e);return e;}

const panels=[
 {key:'co2',title:'Slope Li-820 CO2',ylab:'Licor ppm per min.',col:0,row:0,ymax:4.14,ymin:-6.42,color:'#ff0000',colorB:'#ff0000',A:p1A,B:p1B,C:p1C,OH:p1OutH,OV:p1OutV,K:p1K,ticks:p1Ticks,labels:p1TickLabels},
 {key:'pressure',title:'Slope Li-820 Pressure',ylab:'kPa per min.',col:1,row:0,ymax:0.0102,ymin:-0.0383,color:'#00ff00',colorB:'#00ee00',A:p2A,B:p2B,C:p2C,OH:p2OutH,OV:p2OutV,K:p2K,ticks:p2Ticks,labels:p2TickLabels},
 {key:'temp',title:'Slope Li-820 Temp.',ylab:'degrees C per min.',col:2,row:0,ymax:0.0101,ymin:-0.0145,color:'#ff00ff',colorB:'#ff00ff',A:p3A,B:p3B,C:p3C,OH:p3OutH,OV:p3OutV,K:p3K,ticks:p3Ticks,labels:p3TickLabels},
 {key:'amb-box-temp',title:'Slope Amb. Box Temp.',ylab:'degrees C per min.',col:0,row:1,ymax:0.327,ymin:-0.253,color:'#ff00ff',colorB:'#ff00ff',A:p4A,B:p4B,C:p4C,OH:p4OutH,OV:p4OutV,K:p4K,ticks:p4Ticks,labels:p4TickLabels},
 {key:'gas-stream-rh',title:'Slope Gas Stream RH',ylab:'percent per min.',col:1,row:1,ymax:0.212,ymin:-0.164,color:'#ffb000',colorB:'#ff7a00',A:p5A,B:p5B,C:p5C,OH:p5OutH,OV:p5OutV,K:p5K,ticks:p5Ticks,labels:p5TickLabels},
 {key:'sample-flow',title:'Slope Sample Flow',ylab:'ml/min per min.',col:2,row:1,ymax:0.554,ymin:-0.966,color:'#0000ff',colorB:'#0000ff',A:p6A,B:p6B,C:p6C,OH:p6OutH,OV:p6OutV,K:p6K,ticks:p6Ticks,labels:p6TickLabels},
 {key:'line1-flow',title:'Slope Line 1 Flow',ylab:'ml/min per min.',col:0,row:2,ymax:8.19,ymin:-5.70,color:'#00ffff',colorB:'#00ffff',A:p7A,B:p7B,C:p7C,OH:p7OutH,OV:p7OutV,K:p7K,ticks:p7Ticks,labels:p7TickLabels},
 {key:'line2-flow',title:'Slope Line 2 Flow',ylab:'ml/min per min.',col:1,row:2,ymax:9.98,ymin:-6.76,color:'#00ffff',colorB:'#00ffff',A:p8A,B:p8B,C:p8C,OH:p8OutH,OV:p8OutV,K:p8K,ticks:p8Ticks,labels:p8TickLabels},
 {key:'line3-flow',title:'Slope Line 3 Flow',ylab:'ml/min per min.',col:2,row:2,ymax:6.57,ymin:-3.57,color:'#00ffff',colorB:'#00ffff',A:p9A,B:p9B,C:p9C,OH:p9OutH,OV:p9OutV,K:p9K,ticks:p9Ticks,labels:p9TickLabels},
 {key:'line4-flow',title:'Slope Line 4 (LT) Flow',ylab:'ml/min per min.',col:0,row:3,ymax:0.273,ymin:-0.914,color:'#00ffff',colorB:'#00ffff',A:p10A,B:p10B,C:p10C,OH:p10OutH,OV:p10OutV,K:p10K,ticks:p10Ticks,labels:p10TickLabels}
];
const colLeft=[33,346,658], boxW=268, rowTop=[45,168,290,412], boxH=76;

panels.forEach(p=>{
  const L=colLeft[p.col], T=rowTop[p.row], R=L+boxW, B=T+boxH;
  const g=mk('g',{});
  
  
  const xs=h=>L+10+h*(247/24);
  const ys=v=>T+(p.ymax-v)/(p.ymax-p.ymin)*boxH;
  const clip='clip-'+p.key;
  const cp=mk('clipPath',{id:clip},g); mk('rect',{x:L,y:T,width:boxW,height:boxH},cp);
  const pts=mk('g',{'clip-path':'url(#'+clip+')',fill:'none','stroke-width':1.5},g);
  
  
  function dots(hs,vs,color,name){
    const n=Math.min(hs.length,vs.length);
    for(let i=0;i<n;i++){
      const c=mk('circle',{cx:xs(hs[i]).toFixed(1),cy:ys(vs[i]).toFixed(1),r:2.4,stroke:color},pts);
      
      
    }
  }
  dots(hoursA,p.A,p.color,'point-colored');
  dots(hoursC,p.C,p.colorB,'point-colored');
  dots(hoursB,p.B,p.color,'point-colored');
  dots(p.OH,p.OV,p.colorB,'point-outlier');
  dots(hoursK,p.K,'#000000','point-black');
  const box=mk('rect',{x:L,y:T,width:boxW,height:boxH,fill:'none',stroke:'#000','stroke-width':1},g);
  
  
  const xa=mk('g',{stroke:'#000','stroke-width':1},g);
  
  
  mk('line',{x1:xs(xTicks[0]),y1:B,x2:xs(xTicks[xTicks.length-1]),y2:B},xa);
  xTicks.forEach((t,i)=>{
    mk('line',{x1:xs(t),y1:B,x2:xs(t),y2:B+4},xa);
    const tx=mk('text',{x:xs(t),y:B+16,'text-anchor':'middle','font-size':11,stroke:'none',fill:'#000'},xa);
    tx.textContent=xTickLabels[i];
    
    
  });
  const ya=mk('g',{stroke:'#000','stroke-width':1},g);
  
  
  mk('line',{x1:L,y1:ys(p.ticks[0]),x2:L,y2:ys(p.ticks[p.ticks.length-1])},ya);
  p.ticks.forEach((t,i)=>{
    mk('line',{x1:L-4,y1:ys(t),x2:L,y2:ys(t)},ya);
    if(p.labels[i]){
      const yy=ys(t);
      const tx=mk('text',{x:L-7,y:yy,'text-anchor':'middle','font-size':11,stroke:'none',fill:'#000',transform:'rotate(-90 '+(L-7)+' '+yy+')'},ya);
      tx.textContent=p.labels[i];
      
      
    }
  });
  const yl=mk('text',{x:L-22,y:T+boxH/2,'text-anchor':'middle','font-size':10.5,fill:'#000',transform:'rotate(-90 '+(L-22)+' '+(T+boxH/2)+')'},g);
  yl.textContent=p.ylab;
  
  
  const tt=mk('text',{x:L+boxW/2,y:T-6,'text-anchor':'middle','font-size':11,'font-weight':'bold',fill:'#000'},g);
  tt.textContent=p.title;
  
  
});
</script>
</body></html>
